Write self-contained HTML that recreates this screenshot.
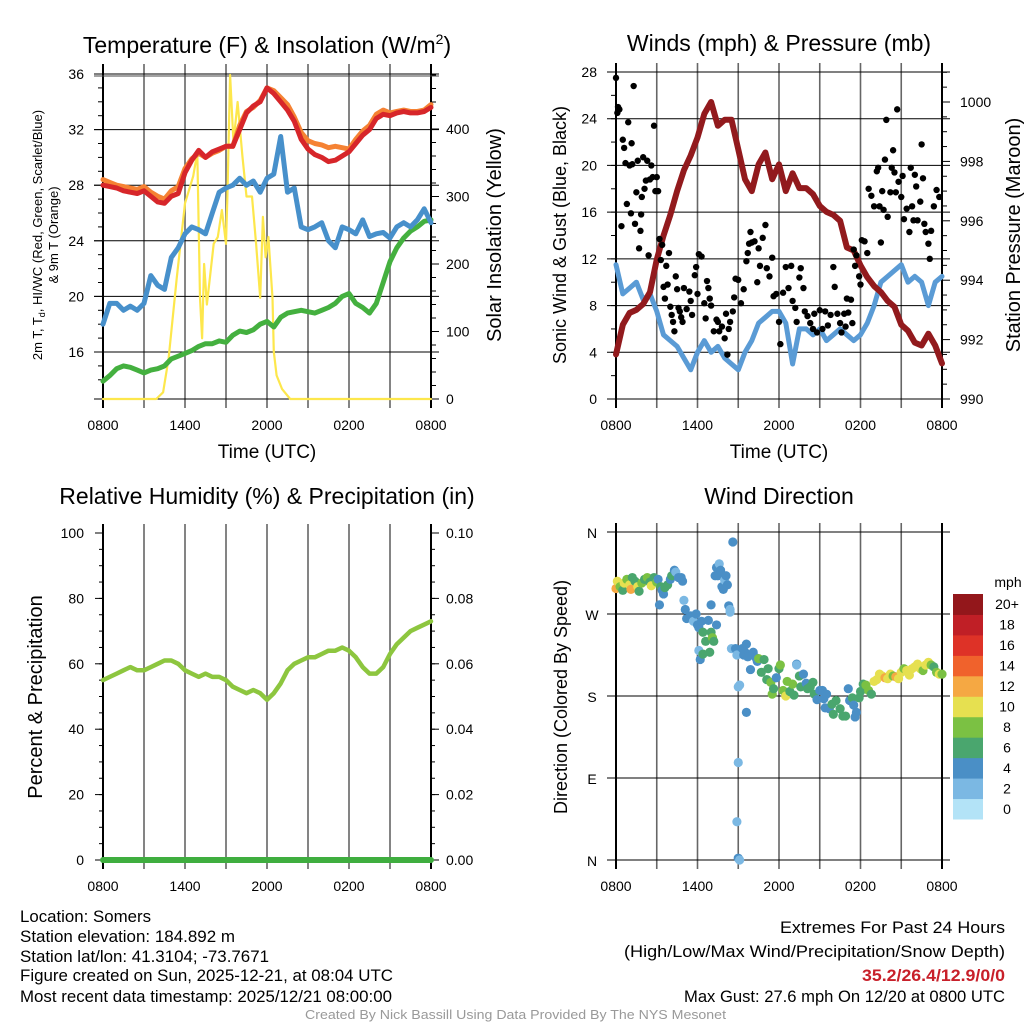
<!DOCTYPE html>
<html><head><meta charset="utf-8"><style>
html,body{margin:0;padding:0;background:#fff;}
svg{display:block;font-family:"Liberation Sans",sans-serif;}
</style></head><body>
<svg id="chart" width="1024" height="1024" viewBox="0 0 1024 1024" xmlns="http://www.w3.org/2000/svg">
<rect width="1024" height="1024" fill="#fff"/>
<g id="grids"></g><g id="marks"></g><g id="labels"></g>
<!-- titles -->
<text x="267" y="53" font-size="23" text-anchor="middle">Temperature (F) &amp; Insolation (W/m<tspan font-size="14" dy="-9">2</tspan><tspan dy="9">)</tspan></text>
<text x="779" y="51" font-size="23" text-anchor="middle">Winds (mph) &amp; Pressure (mb)</text>
<text x="267" y="504" font-size="23" text-anchor="middle">Relative Humidity (%) &amp; Precipitation (in)</text>
<text x="779" y="504" font-size="23" text-anchor="middle">Wind Direction</text>
<!-- axis titles -->
<text x="267" y="458" font-size="19" text-anchor="middle">Time (UTC)</text>
<text x="779" y="458" font-size="19" text-anchor="middle">Time (UTC)</text>
<text transform="translate(42,235) rotate(-90)" font-size="13" text-anchor="middle">2m T, T<tspan font-size="9" dy="3">d</tspan><tspan dy="-3">, HI/WC (Red, Green, Scarlet/Blue)</tspan></text>
<text transform="translate(58,235) rotate(-90)" font-size="13" text-anchor="middle">&amp; 9m T (Orange)</text>
<text transform="translate(501,235) rotate(-90)" font-size="20" text-anchor="middle">Solar Insolation (Yellow)</text>
<text transform="translate(566,235) rotate(-90)" font-size="18" text-anchor="middle">Sonic Wind &amp; Gust (Blue, Black)</text>
<text transform="translate(1020,235) rotate(-90)" font-size="20" text-anchor="middle">Station Pressure (Maroon)</text>
<text transform="translate(42,697) rotate(-90)" font-size="20" text-anchor="middle">Percent &amp; Precipitation</text>
<text transform="translate(567,697) rotate(-90)" font-size="18" text-anchor="middle">Direction (Colored By Speed)</text>
<!-- footer -->
<g font-size="16.5">
<text x="20" y="922" textLength="131" lengthAdjust="spacingAndGlyphs">Location: Somers</text>
<text x="20" y="942" textLength="215" lengthAdjust="spacingAndGlyphs">Station elevation: 184.892 m</text>
<text x="20" y="962" textLength="249" lengthAdjust="spacingAndGlyphs">Station lat/lon: 41.3104; -73.7671</text>
<text x="20" y="981" textLength="373" lengthAdjust="spacingAndGlyphs">Figure created on Sun, 2025-12-21, at 08:04 UTC</text>
<text x="20" y="1002" textLength="372" lengthAdjust="spacingAndGlyphs">Most recent data timestamp: 2025/12/21 08:00:00</text>
</g>
<g font-size="16.5">
<text x="780" y="933" textLength="225" lengthAdjust="spacingAndGlyphs">Extremes For Past 24 Hours</text>
<text x="624" y="957" textLength="381" lengthAdjust="spacingAndGlyphs">(High/Low/Max Wind/Precipitation/Snow Depth)</text>
<text x="862" y="981" textLength="143" lengthAdjust="spacingAndGlyphs" fill="#c8202a" font-weight="bold">35.2/26.4/12.9/0/0</text>
<text x="684" y="1002" textLength="321" lengthAdjust="spacingAndGlyphs">Max Gust: 27.6 mph On 12/20 at 0800 UTC</text>
</g>
<text x="305" y="1019" font-size="13" fill="#999" textLength="421" lengthAdjust="spacingAndGlyphs">Created By Nick Bassill Using Data Provided By The NYS Mesonet</text>
</svg>
<script>
// ---------- data ----------
const hours49 = [0,0.5,1,1.5,2,2.5,3,3.5,4,4.5,5,5.5,6,6.5,7,7.5,8,8.5,9,9.5,10,10.5,11,11.5,12,12.5,13,13.5,14,14.5,15,15.5,16,16.5,17,17.5,18,18.5,19,19.5,20,20.5,21,21.5,22,22.5,23,23.5,24];
const timeTickLabels = ["0800","1400","2000","0200","0800"];
const tempRed = [28.0,27.9,27.8,27.6,27.5,27.4,27.6,27.2,26.8,26.7,27.2,27.4,28.9,29.8,30.5,30.0,30.4,30.6,30.8,30.8,32.0,33.2,33.7,34.0,35.0,34.6,34.0,33.4,32.6,31.3,30.6,30.2,30.0,29.7,29.8,30.1,30.4,31.0,31.6,32.0,32.8,33.1,33.0,33.2,33.3,33.2,33.2,33.3,33.6];
const tempOrange = [28.4,28.2,28.0,27.9,27.8,27.7,27.9,27.5,27.2,27.0,27.6,27.9,29.2,29.9,30.3,30.0,30.3,30.5,30.8,30.8,32.3,33.3,33.6,34.1,35.0,34.8,34.3,33.8,32.9,31.8,31.2,31.0,30.9,30.7,30.8,30.7,30.6,31.3,31.9,32.3,33.1,33.4,33.2,33.3,33.4,33.3,33.3,33.4,33.8];
const tempBlue = [18.0,19.5,19.5,19.0,19.3,19.0,19.5,21.5,20.8,20.5,22.8,23.5,24.5,25.0,24.8,24.5,26.0,27.5,27.8,28.0,28.5,28.0,28.3,27.5,28.5,28.8,31.5,27.5,27.8,25.0,24.8,25.0,25.3,24.0,23.5,25.0,24.8,24.5,25.5,24.3,24.5,24.6,24.2,25.0,25.3,25.0,25.5,26.3,25.3];
const tempGreen = [13.9,14.3,14.8,15.0,14.9,14.7,14.5,14.7,14.8,15.0,15.5,15.7,15.9,16.1,16.4,16.6,16.6,16.8,16.7,17.2,17.5,17.4,17.6,18.0,18.2,17.8,18.5,18.8,18.9,19.0,18.9,18.8,19.0,19.2,19.5,20.0,20.2,19.5,19.2,18.8,19.5,21.0,22.5,23.5,24.2,24.7,25.0,25.4,25.5];
const tempTicks = [16,20,24,28,32,36];
const insolHours = [0,3.9,4.4,4.8,5.4,6.0,6.6,6.9,7.1,7.25,7.4,7.6,8.1,8.4,8.7,9.0,9.1,9.3,9.55,9.85,10.2,10.5,10.9,11.2,11.5,11.7,11.9,12.1,12.4,12.5,12.7,13.1,13.7,24];
const insolVals = [0,0,10,60,180,290,330,365,150,90,200,140,230,240,280,230,300,480,380,440,360,300,300,230,150,270,210,240,150,70,35,15,0,0];
const insolTicks = [0,100,200,300,400];
const sonicWind = [11.5,9.0,9.5,10.0,8.5,9.0,7.5,5.5,5.0,4.5,3.5,2.5,4.0,5.0,4.0,4.5,3.5,3.0,2.5,4.0,5.0,6.5,7.0,7.5,7.5,6.5,3.0,6.0,6.0,5.5,6.0,5.0,5.5,6.0,5.5,5.0,5.5,6.5,8.0,10.0,10.5,11.0,11.5,10.0,10.5,10.0,8.0,10.0,10.5];
const pressure = [991.5,992.5,992.9,993.0,993.2,993.6,994.7,995.5,996.2,997.0,997.7,998.2,998.8,999.6,1000.0,999.2,999.4,999.4,998.4,997.4,997.0,997.9,998.3,997.4,997.9,997.0,997.6,997.1,997.1,996.9,996.5,996.3,996.2,996.0,995.1,995.0,994.5,994.1,993.8,993.6,993.3,993.1,992.5,992.3,991.9,991.8,992.2,991.8,991.2];
const windTicks = [0,4,8,12,16,20,24,28];
const pressTicks = [990,992,994,996,998,1000];
const gustHours = [0,0.1,0.15,0.25,0.4,0.5,0.6,0.7,0.8,0.9,1.0,1.1,1.15,1.2,1.3,1.4,1.5,1.6,1.7,1.8,1.85,1.9,2.0,2.1,2.2,2.3,2.4,2.5,2.6,2.7,2.8,2.9,3.0,3.1,3.2,3.3,3.4,3.5,3.6,3.7,3.8,3.9,4.0,4.1,4.2,4.3,4.4,4.5,4.6,4.7,4.8,4.9,5.0,5.2,5.4,5.5,5.6,5.8,5.9,6.0,6.1,6.3,6.5,6.6,6.7,6.8,6.9,7.0,7.2,7.4,7.5,7.6,7.8,8.0,8.1,8.2,8.3,8.4,8.6,8.7,8.8,9.0,9.2,9.4,9.6,9.7,9.8,9.9,10.0,10.2,10.4,10.5,10.6,10.8,11.0,11.1,11.3,11.5,11.6,11.8,12.0,12.1,12.3,12.5,12.7,12.9,13.0,13.2,13.3,13.5,13.6,13.8,13.9,14.1,14.3,14.5,14.6,14.8,15.0,15.2,15.4,15.6,15.8,16.0,16.1,16.3,16.5,16.6,16.8,16.9,17.0,17.1,17.3,17.4,17.5,17.6,17.7,17.9,18.0,18.1,18.3,18.5,18.6,18.8,19.0,19.2,19.3,19.4,19.5,19.6,19.7,19.8,19.9,20.0,20.2,20.3,20.4,20.5,20.6,20.7,20.8,21.0,21.1,21.2,21.4,21.6,21.7,21.8,21.9,22.0,22.1,22.2,22.4,22.5,22.6,22.7,22.8,23.0,23.1,23.2,23.4,23.6,23.8];
const gustVals = [27.5,24.5,25,24.8,14.8,22.2,21.5,20.2,16.7,23.7,20,15.9,21.9,20.1,26.8,15,17.7,20.4,12.9,14.4,15.8,17.3,20.7,18,18.7,20.4,12.3,18.8,20.0,19,23.4,17.8,19,17.8,13.7,11.9,13.2,9.6,8.6,11.4,9.8,12.5,7.9,7.2,6.6,5.8,10.5,9.4,7.8,7.5,7.0,6.6,9.5,7.7,9.2,8.4,7.2,10.6,11.3,9.0,12.4,12.2,8.2,6.9,10.1,9.5,8.6,8.0,5.8,6.8,6.6,5.8,6.2,5.2,7.3,3.8,6.0,6.6,7.5,8.7,10.3,10.2,8.2,9.4,11.8,12.5,13.3,14.3,13.4,13.5,10.0,12.9,11.4,13.8,14.9,11.2,10.5,12.1,8.8,9.0,6.6,4.7,9.1,11.3,9.5,11.4,8.4,7.8,6.6,10.4,11.2,9.5,7.5,7.1,6.5,6.0,7.3,5.7,7.6,6.0,7.5,6.3,7.2,11.3,9.6,7.3,6.5,5.7,7.3,6.2,8.6,7.4,8.5,6.5,12.8,11.4,12.3,10.5,9.8,13.6,13.5,12.5,18.0,17.4,16.5,19.5,19.8,16.5,13.4,17.8,16.2,20.5,23.9,15.6,17.7,19.8,21.3,19.4,17.7,24.8,18.6,17.3,19.1,15.4,16.3,14.3,19.8,16.5,15.3,19.2,18.2,15.3,16.9,21.8,18.9,15.0,14.3,13.3,12.0,14.4,16.5,17.9,17.3];
const humidity = [55,56,57,58,59,58,58,59,60,61,61,60,58,57,56,57,56,56,55,53,52,51,52,51,49,51,54,58,60,61,62,62,63,64,64,65,64,62,59,57,57,59,63,66,68,70,71,72,73];
const precip = [0,0,0,0,0,0,0,0,0,0,0,0,0,0,0,0,0,0,0,0,0,0,0,0,0,0,0,0,0,0,0,0,0,0,0,0,0,0,0,0,0,0,0,0,0,0,0,0,0];
const rhTicks = [0,20,40,60,80,100];
const precipTicks = ["0.00","0.02","0.04","0.06","0.08","0.10"];
const dirHours = [0.0,0.1,0.3,0.5,0.6,0.8,1.0,1.1,1.2,1.4,1.6,1.7,1.9,2.1,2.3,2.5,2.6,2.8,3.0,3.1,3.3,3.4,3.5,3.6,3.8,4.0,4.1,4.3,4.4,4.6,4.8,4.9,3.2,5.0,5.1,5.2,5.5,5.7,5.9,6.0,6.1,6.3,6.4,6.6,6.8,7.0,7.1,7.2,7.4,6.1,6.2,6.4,6.9,7.0,7.3,7.4,7.5,7.6,7.7,7.8,7.9,8.0,8.1,8.2,8.3,8.4,8.5,8.6,8.4,8.8,8.9,9.0,9.1,9.0,8.9,9.0,9.1,9.3,9.4,9.5,9.6,9.7,9.9,9.6,10.1,10.3,10.4,10.5,10.7,10.9,11.1,11.2,11.4,11.5,11.6,11.8,12.0,12.1,12.3,12.5,12.6,12.8,13.0,13.1,13.3,13.3,13.5,13.6,13.8,14.0,14.1,14.3,14.5,14.6,14.8,15.0,15.2,15.3,15.4,15.5,15.7,15.9,16.0,16.2,16.5,16.7,16.9,17.1,17.2,17.4,17.5,17.6,17.7,17.9,18.0,18.2,18.4,18.6,18.8,19.0,19.2,19.4,19.6,19.8,20.0,20.2,20.4,20.6,20.8,21.0,21.2,21.4,21.6,21.8,22.0,22.2,22.4,22.6,22.8,23.0,23.2,23.4,23.6,23.8,24.0];
const dirVals = [298,306,300,296,304,308,302,297,310,306,300,295,304,308,310,305,301,310,305,308,300,296,292,299,302,308,312,318,316,310,310,306,280,285,275,265,268,262,270,258,255,262,250,240,263,250,244,240,258,230,220,226,228,280,312,321,312,325,318,300,297,307,312,302,279,275,232,349,272,232,225,190,192,107,42,2,0,232,225,228,237,223,209,162,228,222,218,221,206,220,198,210,195,182,188,200,210,214,186,180,196,185,193,181,215,214,202,190,204,194,188,190,195,182,176,186,186,177,167,182,166,171,160,175,166,158,158,188,175,178,170,157,162,178,185,193,192,186,182,196,198,204,202,200,199,204,202,201,199,206,210,208,203,210,212,215,210,208,214,217,214,212,206,204,204];
const dirSpeeds = [12,10,8,7,10,8,10,12,6,7,10,6,8,7,8,7,10,6,8,4,6,4,4,6,6,4,6,4,2,4,4,4,4,2,4,4,4,2,4,4,4,4,6,6,4,6,8,6,4,2,4,6,6,4,4,4,4,2,4,4,4,2,4,4,4,2,2,4,2,4,2,2,2,2,2,4,2,4,4,4,4,4,4,4,4,4,4,8,6,6,6,6,8,8,6,4,6,8,8,10,8,6,8,6,4,2,6,6,4,4,6,6,6,6,4,4,4,4,4,4,4,6,6,6,6,6,6,4,4,6,4,4,4,6,6,6,8,8,6,10,10,10,10,12,10,10,8,12,10,10,8,10,10,10,10,10,10,8,10,10,8,6,8,10,8];
const dirTickLabels = ["N","E","S","W","N"];
const speedBinLabels = ["0","2","4","6","8","10","12","14","16","18","20+"];
</script>
<script>
const NS="http://www.w3.org/2000/svg";
const G=document.getElementById('grids'),M=document.getElementById('marks'),L=document.getElementById('labels');
const binColors=["#b3e3f7","#7bb8e3","#4a8fc6","#4aa66e","#7bc143","#e6e050","#f5a843","#f0622c","#de3227","#c01f26","#93171b"];
function mk(tag,parent,attrs){const e=document.createElementNS(NS,tag);for(const k in attrs)e.setAttribute(k,attrs[k]);parent.appendChild(e);return e;}
function line(parent,x1,y1,x2,y2,stroke,w,name){const e=mk('line',parent,{x1:x1,y1:y1,x2:x2,y2:y2,stroke:stroke,'stroke-width':w});

return e;}
function txt(parent,x,y,s,size,anchor,name){const e=mk('text',parent,{x:x,y:y,'font-size':size,'text-anchor':anchor});e.textContent=s;

return e;}
function poly(parent,xs,ys,xf,yf,color,w,name){let d='';for(let i=0;i<xs.length;i++)d+=(i?'L':'M')+xf(xs[i]).toFixed(1)+','+yf(ys[i]).toFixed(1);
const e=mk('path',parent,{d:d,fill:'none',stroke:color,'stroke-width':w,'stroke-linejoin':'round','stroke-linecap':'round'});

return e;}

function timeAxis(x0,x1,yTop,yBot,labelY,prefix){
  const xf=h=>x0+h/24*(x1-x0);
  for(let k=0;k<=8;k++){const x=xf(k*3);
    line(G,x,yTop-9,x,yBot+9,k==0||k==8?'#000':'#666',k==0||k==8?2:1.6,prefix+'-vgrid');}
  timeTickLabels.forEach((s,i)=>txt(L,xf(i*6),labelY,s,14,'middle',prefix+'-x-tick-label'));
  return xf;
}
// ---------- panel 1: temperature ----------
{
  const x0=103,x1=431,top=73,bot=399;
  const xf=timeAxis(x0,x1,top,bot,430,'temp');
  const yT=t=>352-(t-16)*13.9, yI=v=>399-v*0.675;
  tempTicks.forEach(t=>{line(G,x0-9,yT(t),x1+8,yT(t),'#000',1,'temp-hgrid');txt(L,84,yT(t)+5,String(t),14,'end','temp-y-tick-label');});
  line(G,x0-9,76,x1+8,76,'#444',1,'temp-top-border');
  line(G,x0-9,bot,x1+8,bot,'#000',1,'temp-bottom-axis');
  for(let v=0;v<=480;v+=20){line(G,x1,yI(v),x1+(v%100==0?8:5),yI(v),'#000',1,'insolation-minor-tick');}
  for(let t=14;t<=36;t+=1){line(G,x0-(t%4==0?9:5),yT(t),x0,yT(t),'#000',1,'temp-minor-tick');}
  insolTicks.forEach(v=>txt(L,446,yI(v)+5,String(v),14,'start','insolation-y-tick-label'));
  poly(M,insolHours,insolVals,xf,yI,'#fde74c',2.2,'insolation-line');
  poly(M,hours49,tempGreen,xf,yT,'#44b03f',5,'dewpoint-line');
  poly(M,hours49,tempBlue,xf,yT,'#4790cb',5,'windchill-line');
  poly(M,hours49,tempOrange,xf,yT,'#f58233',5,'temp-9m-line');
  poly(M,hours49,tempRed,xf,yT,'#d7262a',5,'temp-2m-line');
}
// ---------- panel 2: winds ----------
{
  const x0=616,x1=942,top=72,bot=399;
  const xf=timeAxis(x0,x1,top,bot,430,'wind');
  const yW=v=>399-v*(327/28), yP=p=>399-(p-990)*29.7;
  windTicks.forEach(v=>{line(G,x0-9,yW(v),x1+8,yW(v),'#000',1,'wind-hgrid');txt(L,597,yW(v)+5,String(v),14,'end','wind-y-tick-label');});
  for(let p=990;p<=1001;p+=0.5){line(G,x1,yP(p),x1+(p%2==0?8:5),yP(p),'#000',1,'pressure-tick');}
  for(let v=0;v<=28;v+=2){line(G,x0-5,yW(v),x0,yW(v),'#000',1,'wind-minor-tick');}
  pressTicks.forEach(p=>txt(L,960,yP(p)+5,String(p),14,'start','pressure-y-tick-label'));
  poly(M,hours49,sonicWind,xf,yW,'#5a9bd5',5,'sonic-wind-line');
  poly(M,hours49,pressure,xf,yP,'#921a1d',6,'pressure-line');
  for(let i=0;i<gustHours.length;i++){const c=mk('circle',M,{cx:xf(gustHours[i]),cy:yW(gustVals[i]),r:3.2,fill:'#000'});
    
    }
}
// ---------- panel 3: humidity ----------
{
  const x0=103,x1=431,top=533,bot=860;
  const xf=timeAxis(x0,x1,top,bot,891,'rh');
  const yR=v=>860-v*3.27, yPr=v=>860-v*3270;
  rhTicks.forEach(v=>{line(G,x0-8,yR(v),x0,yR(v),'#000',1,'rh-tick');txt(L,84,yR(v)+5,String(v),14,'end','rh-y-tick-label');});
  precipTicks.forEach((s,i)=>{line(G,x1,yR(i*20),x1+8,yR(i*20),'#000',1,'precip-tick');txt(L,446,yR(i*20)+5,s,14,'start','precip-y-tick-label');});
  for(let v=0;v<=100;v+=5){line(G,x0-4,yR(v),x0,yR(v),'#000',1,'rh-minor-tick');line(G,x1,yR(v),x1+4,yR(v),'#000',1,'precip-minor-tick');}
  poly(M,hours49,humidity,xf,yR,'#8dc63f',4.5,'humidity-line');
  poly(M,hours49,precip,xf,yPr,'#3fae3f',6,'precip-line');
}
// ---------- panel 4: wind direction ----------
{
  const x0=616,x1=942,top=532,bot=860;
  const xf=timeAxis(x0,x1,top,bot,891,'dir');
  const yD=d=>860-d*(328/360);
  dirTickLabels.forEach((s,i)=>{line(G,x0-9,yD(i*90),x1+8,yD(i*90),'#000',1,'dir-hgrid');txt(L,592,yD(i*90)+6,s,14,'middle','dir-y-tick-label');});
  for(let i=0;i<dirHours.length;i++){const b=Math.min(10,Math.floor(dirSpeeds[i]/2));
    const c=mk('circle',M,{cx:xf(dirHours[i]),cy:yD(dirVals[i]),r:4.6,fill:binColors[b]});
    
    }
  const cb=mk('g',L,{});
  
  
  const cbTop=594,cbH=225/11;
  speedBinLabels.forEach((s,i)=>{const y=cbTop+(10-i)*cbH;
    const r=mk('rect',cb,{x:953,y:y,width:30,height:cbH+0.5,fill:binColors[i]});
    
    
    txt(cb,1007,y+cbH/2+5,s,14,'middle','colorbar-label');});
  txt(cb,1008,587,'mph',14,'middle','colorbar-title');
}
</script>
</body></html>
